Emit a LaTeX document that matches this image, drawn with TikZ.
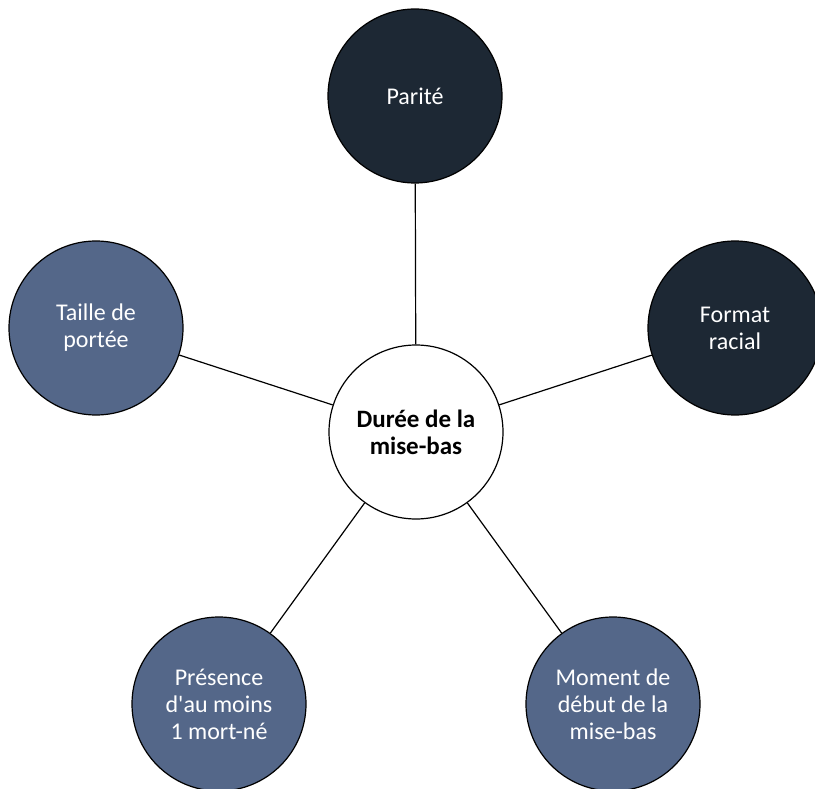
\documentclass[tikz,border=0pt]{standalone}
\usepackage{fontspec}
\setmainfont{Carlito}

\definecolor{darknavy}{HTML}{1D2834}
\definecolor{slateblue}{HTML}{546789}

\begin{document}
\begin{tikzpicture}
  [x=1pt,y=-1pt,every node/.style={draw,circle,line width=1.2pt,minimum size=174pt,align=center,text=white,font=\fontsize{24}{27}\selectfont}]
  \useasboundingbox (0,0) rectangle (815,789);
  \clip (0,0) rectangle (815,789);
  \node[fill=white,text=black,font=\fontsize{25}{27}\selectfont\bfseries] (duree) at (416,432) {Durée de la\\mise-bas};
  \node[fill=darknavy] (parite) at (415,96) {Parité};
  \node[fill=darknavy] (format) at (735,328) {Format\\racial};
  \node[fill=slateblue] (taille) at (96,328) {Taille de\\portée};
  \node[fill=slateblue] (presence) at (219,704) {Présence\\d\textquotesingle au moins\\1 mort-né};
  \node[fill=slateblue] (moment) at (613,704) {Moment de\\début de la\\mise-bas};
  \foreach \from/\to in {duree/parite,duree/format,duree/taille,duree/presence,duree/moment}
    \draw[line width=1.2pt] (\from) -- (\to);
\end{tikzpicture}
\end{document}
